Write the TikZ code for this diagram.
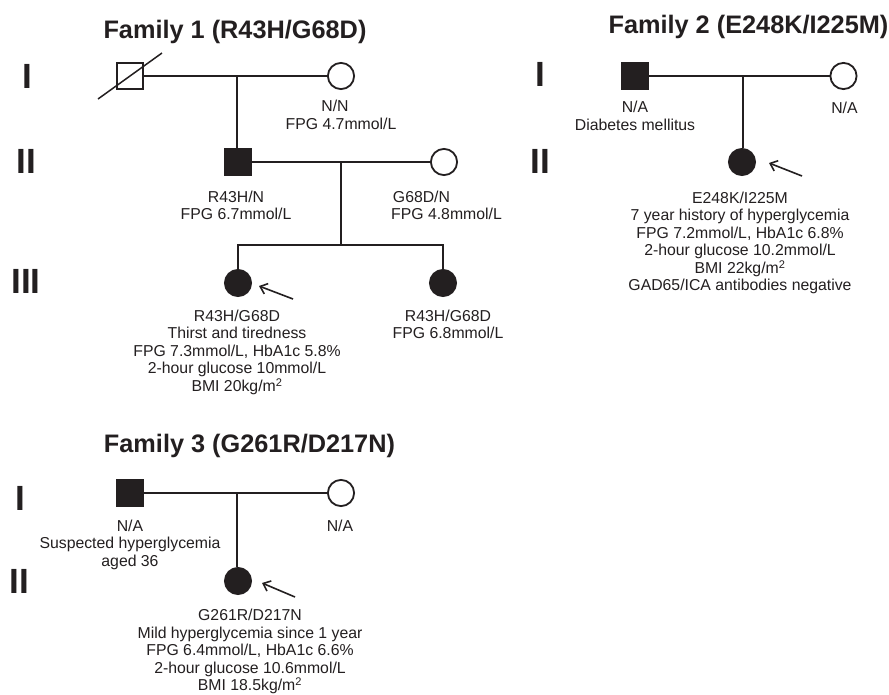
\documentclass[tikz,border=0pt]{standalone}
\usepackage{fontspec}
\setmainfont{Liberation Sans}
\usetikzlibrary{arrows.meta}
\definecolor{ink}{RGB}{35,31,32}
\begin{document}
\begin{tikzpicture}[x=1pt,y=-1pt,
  every node/.style={text=ink},
  male/.style={rectangle,draw=ink,line width=1.8pt,minimum size=26.2pt,inner sep=0pt},
  female/.style={circle,draw=ink,line width=1.8pt,minimum size=26.2pt,inner sep=0pt},
  aff/.style={fill=ink},
  lbl/.style={anchor=north,inner sep=0pt,align=center,font=\fontsize{15.8}{17.5}\selectfont,
    execute at begin node={\rule{0pt}{11.8pt}}},
  gen/.style={anchor=base,inner sep=0pt,font=\fontsize{35}{35}\selectfont\bfseries},
  ttl/.style={anchor=base,inner sep=0pt,font=\fontsize{25.3}{30}\selectfont\bfseries},
  ln/.style={draw=ink,line width=1.2pt},
  prob/.style={draw=ink,line width=1.6pt,-{Straight Barb[length=6.5pt,width=11pt]}}]
\fill[white] (0,0) rectangle (889,694);
\useasboundingbox (0,0) rectangle (889,694);

% ---------------- Family 1 ----------------
\node[ttl] (t1) at (235,38) {Family 1 (R43H/G68D)};
\node[gen] (g1a) at (27,88) {I};
\node[gen] (g1b) at (26,173) {II};
\node[gen] (g1c) at (26,293) {III};
\node[male] (f1a) at (130,76) {};
\node[female] (f1b) at (341,76) {};
\node[male,aff] (f1c) at (238,162) {};
\node[female] (f1d) at (444,162) {};
\node[female,aff] (f1e) at (238,283) {};
\node[female,aff] (f1f) at (443,283) {};
\draw[ln] (f1a) -- (f1b);
\coordinate (m1a) at (237,76);
\draw[ln] (m1a) -- (m1a |- f1c.north);
\draw[ln] (f1c) -- (f1d);
\coordinate (m1b) at (341,162);
\coordinate (s1) at (341,245);
\draw[ln] (m1b) -- (s1);
\draw[ln] (f1e.north) -- (f1e.north |- s1) -- (f1f.north |- s1) -- (f1f.north);
\draw[draw=ink,line width=1.5pt] ([shift={(-32,23)}]f1a.center) -- ([shift={(32,-23)}]f1a.center);
\node[lbl] (l1b) at (341,100.2) {N/N\hspace*{12pt}\\FPG 4.7mmol/L};
\node[lbl] (l1c) at (236,190.7) {R43H/N\\FPG 6.7mmol/L};
\node[lbl] (l1d) at (446.5,190.7) {G68D/N\hspace*{50pt}\\FPG 4.8mmol/L};
\node[lbl] (l1e) at (237,309.7) {R43H/G68D\\Thirst and tiredness\\FPG 7.3mmol/L, HbA1c 5.8\%\\2-hour glucose 10mmol/L\\BMI 20kg/m\textsuperscript{2}};
\node[lbl] (l1f) at (448,309.7) {R43H/G68D\\FPG 6.8mmol/L};
\coordinate (a1t) at (293,299);
\coordinate (a1h) at (259,286);
\draw[prob] (a1t) -- (a1h);

% ---------------- Family 2 ----------------
\node[ttl] (t2) at (748.5,33) {Family 2 (E248K/I225M)};
\node[gen] (g2a) at (540,86) {I};
\node[gen] (g2b) at (540,173) {II};
\node[male,aff] (f2a) at (635,76) {};
\node[female] (f2b) at (843.5,76) {};
\node[female,aff] (f2c) at (742,162) {};
\draw[ln] (f2a) -- (f2b);
\coordinate (m2) at (743,76);
\draw[ln] (m2) -- (m2 |- f2c.north);
\node[lbl] (l2a) at (635,101.2) {N/A\\Diabetes mellitus};
\node[lbl] (l2b) at (844.5,101.2) {N/A};
\node[lbl] (l2c) at (740,191.7) {E248K/I225M\\7 year history of hyperglycemia\\FPG 7.2mmol/L, HbA1c 6.8\%\\2-hour glucose 10.2mmol/L\\BMI 22kg/m\textsuperscript{2}\\GAD65/ICA antibodies negative};
\coordinate (a2t) at (802,176);
\coordinate (a2h) at (769,163);
\draw[prob] (a2t) -- (a2h);

% ---------------- Family 3 ----------------
\node[ttl] (t3) at (249.5,452) {Family 3 (G261R/D217N)};
\node[gen] (g3a) at (20,510) {I};
\node[gen] (g3b) at (19,593) {II};
\node[male,aff] (f3a) at (130,493) {};
\node[female] (f3b) at (341,493) {};
\node[female,aff] (f3c) at (238,581) {};
\draw[ln] (f3a) -- (f3b);
\coordinate (m3) at (237,493);
\draw[ln] (m3) -- (m3 |- f3c.north);
\node[lbl] (l3a) at (130,519.7) {N/A\\Suspected hyperglycemia\\aged 36};
\node[lbl] (l3b) at (340,519.7) {N/A};
\node[lbl] (l3c) at (250,609.2) {G261R/D217N\\Mild hyperglycemia since 1 year\\FPG 6.4mmol/L, HbA1c 6.6\%\\2-hour glucose 10.6mmol/L\\BMI 18.5kg/m\textsuperscript{2}};
\coordinate (a3t) at (295,597);
\coordinate (a3h) at (262,583);
\draw[prob] (a3t) -- (a3h);
\end{tikzpicture}
\end{document}
